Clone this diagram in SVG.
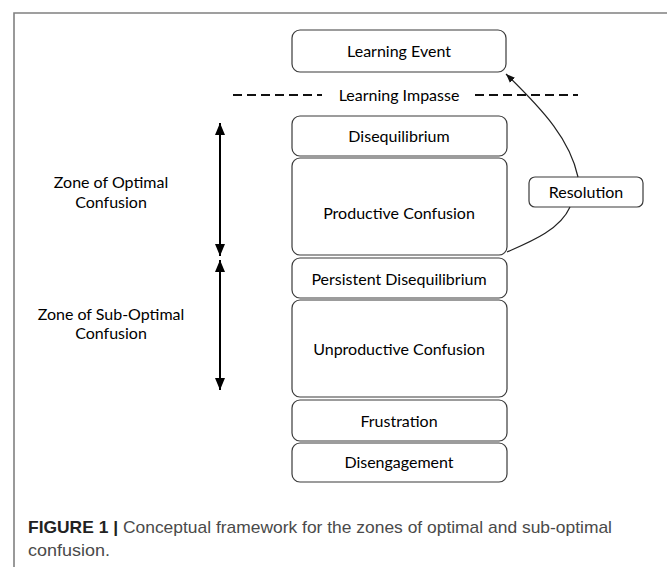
<svg xmlns="http://www.w3.org/2000/svg" width="667" height="567" viewBox="0 0 667 567">
<style>
.box{fill:#fff;stroke:#3a3a3a;stroke-width:1.2}
.t{font-family:Lato,"Open Sans","DejaVu Sans",sans-serif;font-size:16px;fill:#000;text-anchor:middle}
.cap{font-family:"Liberation Sans",Arial,sans-serif;font-size:17px;fill:#4a4a4a}
.conn{fill:none;stroke:#222;stroke-width:1.2}
.dbl{fill:none;stroke:#000;stroke-width:2}
</style>
<defs>
<marker id="ah" viewBox="0 0 10 10" refX="10" refY="5" markerWidth="9" markerHeight="9" markerUnits="userSpaceOnUse" orient="auto">
<path d="M0,1 L10,5 L0,9 z" fill="#111"/>
</marker>
<marker id="big" viewBox="0 0 12 10" refX="12" refY="5" markerWidth="12" markerHeight="10" markerUnits="userSpaceOnUse" orient="auto-start-reverse">
<path d="M0,0 L12,5 L0,10 z" fill="#000"/>
</marker>
</defs>
<rect width="667" height="567" fill="#fff"/>
<path d="M14,567 V13 H667" fill="none" stroke="#808080" stroke-width="1.6"/>

<g id="learning-event"><rect class="box" x="292" y="30" width="214" height="42" rx="8"/><text class="t" x="399" y="57">Learning Event</text></g>
<g id="learning-impasse">
<line x1="233" y1="95" x2="322" y2="95" stroke="#111" stroke-width="2" stroke-dasharray="9,5"/>
<line x1="475" y1="95" x2="578" y2="95" stroke="#111" stroke-width="2" stroke-dasharray="9,5"/>
<text class="t" x="399" y="101">Learning Impasse</text></g>
<g id="disequilibrium"><rect class="box" x="292" y="116" width="215" height="40" rx="8"/><text class="t" x="399" y="142">Disequilibrium</text></g>
<g id="productive-confusion"><rect class="box" x="292" y="158" width="215" height="97" rx="8"/><text class="t" x="399" y="219">Productive Confusion</text></g>
<g id="persistent-disequilibrium"><rect class="box" x="292" y="258" width="215" height="40" rx="8"/><text class="t" x="399" y="285">Persistent Disequilibrium</text></g>
<g id="unproductive-confusion"><rect class="box" x="292" y="300" width="215" height="97" rx="8"/><text class="t" x="399" y="355">Unproductive Confusion</text></g>
<g id="frustration"><rect class="box" x="292" y="400" width="215" height="41" rx="8"/><text class="t" x="399" y="427">Frustration</text></g>
<g id="disengagement"><rect class="box" x="292" y="443" width="215" height="39" rx="8"/><text class="t" x="399" y="468">Disengagement</text></g>
<g id="resolution"><rect class="box" x="529" y="177" width="114" height="30" rx="6"/><text class="t" x="586" y="198">Resolution</text></g>
<g id="zone-optimal"><text class="t" x="111" y="188">Zone of Optimal</text><text class="t" x="111" y="208">Confusion</text></g>
<g id="zone-suboptimal"><text class="t" x="111" y="320">Zone of Sub-Optimal</text><text class="t" x="111" y="339">Confusion</text></g>

<g id="connectors">
<line class="dbl" x1="220" y1="123" x2="220" y2="256" marker-start="url(#big)" marker-end="url(#big)"/>
<line class="dbl" x1="220" y1="260" x2="220" y2="390" marker-start="url(#big)" marker-end="url(#big)"/>
<path class="conn" d="M507,252 C530,242 560,230 570,207"/>
<path class="conn" d="M578,177 C570,140 545,112 506,74" marker-end="url(#ah)"/>
</g>

<g id="caption">
<text class="cap" x="28" y="533" textLength="584" lengthAdjust="spacingAndGlyphs"><tspan font-weight="bold" fill="#222">FIGURE 1 |</tspan> Conceptual framework for the zones of optimal and sub-optimal</text>
<text class="cap" x="28" y="556" textLength="82" lengthAdjust="spacingAndGlyphs">confusion.</text>
</g>
</svg>
